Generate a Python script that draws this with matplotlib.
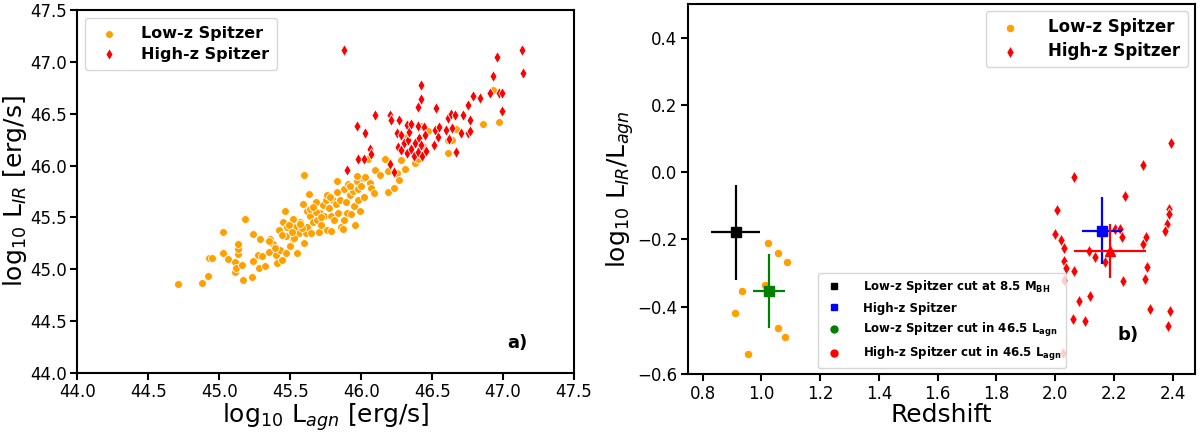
import matplotlib.pyplot as plt
from matplotlib.lines import Line2D
import numpy as np

# panel a) : low-z sample
low_lagn = [44.71, 44.88, 44.92, 44.93, 44.95, 45.03, 45.03, 45.06, 45.11, 45.11,
            45.12, 45.13, 45.13, 45.13, 45.16, 45.17, 45.18, 45.23, 45.24, 45.24,
            45.27, 45.28, 45.29, 45.30, 45.32, 45.35, 45.36, 45.38, 45.40, 45.41,
            45.42, 45.43, 45.44, 45.45, 45.46, 45.47, 45.47, 45.48, 45.50, 45.52,
            45.52, 45.54, 45.55, 45.56, 45.57, 45.59, 45.60, 45.60, 45.61, 45.62,
            45.62, 45.63, 45.64, 45.65, 45.66, 45.67, 45.68, 45.69, 45.70, 45.71,
            45.72, 45.73, 45.74, 45.75, 45.76, 45.76, 45.77, 45.79, 45.79, 45.80,
            45.81, 45.82, 45.83, 45.84, 45.85, 45.86, 45.87, 45.88, 45.88, 45.89,
            45.90, 45.91, 45.92, 45.93, 45.94, 45.95, 45.96, 45.97, 45.98, 45.98,
            45.99, 46.00, 46.01, 46.02, 46.03, 46.05, 46.06, 46.07, 46.09, 46.10,
            46.13, 46.17, 46.19, 46.19, 46.23, 46.25, 46.27, 46.28, 46.31, 46.32,
            46.38, 46.40, 46.42, 46.44, 46.47, 46.61, 46.61, 46.64, 46.67, 46.86,
            46.93, 46.97, 45.44, 45.49, 45.53, 45.58, 45.64, 45.68, 45.72, 45.57,
            45.35, 45.39, 45.51, 45.66, 45.78, 45.83, 45.92, 45.97]
low_lir = [44.86, 44.87, 44.94, 45.11, 45.11, 45.36, 45.16, 45.10, 45.07, 44.97,
           45.01, 45.15, 45.20, 45.24, 45.04, 44.90, 45.49, 44.93, 45.34, 45.08,
           45.14, 45.01, 45.29, 45.13, 45.03, 45.17, 45.29, 45.24, 45.14, 45.06,
           45.38, 45.19, 45.09, 45.46, 45.56, 45.16, 45.32, 45.41, 45.22, 45.29,
           45.49, 45.41, 45.16, 45.35, 45.46, 45.63, 45.25, 45.91, 45.35, 45.56,
           45.41, 45.73, 45.51, 45.35, 45.46, 45.59, 45.65, 45.48, 45.36, 45.54,
           45.43, 45.62, 45.51, 45.67, 45.38, 45.72, 45.59, 45.51, 45.37, 45.67,
           45.48, 45.63, 45.85, 45.54, 45.67, 45.41, 45.39, 45.77, 45.48, 45.65,
           45.54, 45.82, 45.72, 45.53, 45.76, 45.61, 45.43, 45.85, 45.77, 45.67,
           45.56, 45.80, 45.88, 45.70, 45.89, 46.06, 45.83, 45.78, 45.74, 45.96,
           45.91, 46.06, 45.75, 45.95, 45.78, 45.93, 45.86, 46.05, 45.97, 46.28,
           46.03, 46.06, 46.38, 46.18, 46.33, 46.25, 46.12, 46.25, 46.35, 46.40,
           46.73, 46.42, 45.33, 45.43, 45.30, 45.40, 45.58, 45.55, 45.50, 45.44,
           45.27, 45.21, 45.36, 45.60, 45.70, 45.75, 45.80, 45.90]

# panel a) : high-z sample
high_lagn = [45.88, 45.90, 45.97, 45.98, 46.02, 46.03, 46.06, 46.07, 46.10, 46.20,
             46.21, 46.20, 46.23, 46.25, 46.26, 46.27, 46.28, 46.28, 46.30, 46.32,
             46.32, 46.33, 46.34, 46.35, 46.35, 46.37, 46.38, 46.40, 46.40, 46.40,
             46.41, 46.42, 46.42, 46.42, 46.43, 46.44, 46.45, 46.46, 46.51, 46.52,
             46.53, 46.54, 46.55, 46.60, 46.61, 46.62, 46.63, 46.64, 46.66, 46.67,
             46.70, 46.72, 46.75, 46.75, 46.77, 46.77, 46.79, 46.84, 46.91, 46.93,
             46.96, 46.97, 46.99, 46.99, 47.13, 47.14]
high_lir = [47.12, 45.96, 46.38, 46.06, 46.06, 46.31, 46.16, 46.11, 46.49, 46.49,
            46.44, 46.02, 45.94, 46.31, 46.18, 46.44, 46.30, 46.15, 46.22, 46.39,
            46.12, 46.25, 46.32, 46.40, 46.16, 46.09, 46.22, 46.57, 46.38, 46.13,
            46.27, 46.78, 46.20, 46.64, 46.09, 46.37, 46.30, 46.14, 46.20, 46.34,
            46.56, 46.28, 46.37, 46.34, 46.46, 46.26, 46.50, 46.36, 46.49, 46.13,
            46.31, 46.49, 46.58, 46.31, 46.44, 46.33, 46.67, 46.65, 46.70, 46.86,
            47.05, 46.70, 46.70, 46.53, 47.12, 46.89]

# panel b) : ratio vs redshift
low_z = [0.909, 0.935, 0.956, 1.014, 1.023, 1.057, 1.087, 1.056, 1.081]
low_ratio = [-0.418, -0.352, -0.540, -0.334, -0.209, -0.240, -0.268, -0.463, -0.490]
high_z = [2.066, 2.301, 2.395, 2.239, 2.005, 2.388, 2.387, 2.382, 2.374, 2.000,
          2.021, 2.032, 2.032, 2.038, 2.032, 2.064, 2.117, 2.136, 2.169, 2.205,
          2.221, 2.229, 2.232, 2.300, 2.310, 2.312, 2.306, 2.323, 2.081, 2.119,
          2.060, 2.101, 2.392, 2.385, 2.027]
high_ratio = [-0.013, 0.020, 0.087, -0.070, -0.112, -0.108, -0.125, -0.154, -0.176, -0.184,
              -0.202, -0.226, -0.264, -0.284, -0.320, -0.294, -0.233, -0.253, -0.268, -0.169,
              -0.169, -0.192, -0.322, -0.213, -0.194, -0.281, -0.317, -0.408, -0.382, -0.369,
              -0.435, -0.441, -0.412, -0.457, -0.537]

# mean points with errors: low-z cut MBH, high-z, low-z cut Lagn, high-z cut Lagn
mean_z = [0.913, 2.160, 1.025, 2.187]
mean_ratio = [-0.179, -0.174, -0.352, -0.233]
mean_zerr = [0.084, 0.069, 0.054, 0.123]
mean_rerr = [0.140, 0.099, 0.110, 0.080]
mean_colors = ['black', 'blue', 'green', 'red']
mean_markers = ['s', 's', 's', '^']
mean_labels = [r'Low-z Spitzer cut at 8.5 M$_{\mathbf{BH}}$', 'High-z Spitzer',
               r'Low-z Spitzer cut in 46.5 L$_{\mathbf{agn}}$',
               r'High-z Spitzer cut in 46.5 L$_{\mathbf{agn}}$']
legend_markers = ['s', 's', 'o', 'o']

orange = '#FFA000'

fig = plt.figure(figsize=(12, 4.32), dpi=100)
ax1 = fig.add_axes([0.0644, 0.1366, 0.414, 0.840])
ax2 = fig.add_axes([0.573, 0.134, 0.4225, 0.857])

for ax in (ax1, ax2):
    for sp in ax.spines.values():
        sp.set_linewidth(1.5)
    ax.tick_params(labelsize=12, length=5, width=1.5, pad=2.5)

# left panel
ax1.scatter(low_lagn, low_lir, s=32, c=orange, edgecolors='white', linewidths=0.6,
            label='Low-z Spitzer', zorder=2)
ax1.scatter(high_lagn, high_lir, s=36, c='red', marker='d', edgecolors='white',
            linewidths=0.6, label='High-z Spitzer', zorder=3)
ax1.set_xlim(44.0, 47.5)
ax1.set_ylim(44.0, 47.5)
ax1.set_xlabel(r'log$_{10}$ L$_{agn}$ [erg/s]', fontsize=18, labelpad=0)
ax1.set_ylabel(r'log$_{10}$ L$_{IR}$ [erg/s]', fontsize=18, labelpad=1)
ax1.legend(loc='upper left', prop={'weight': 'bold', 'size': 11.5}, handletextpad=1.0,
           borderpad=0.5, labelspacing=0.35, borderaxespad=0.5)
ax1.text(47.1, 44.29, 'a)', fontsize=13, fontweight='bold', ha='center', va='center')

# right panel
ax2.scatter(low_z, low_ratio, s=36, c=orange, edgecolors='white', linewidths=0.6,
            label='Low-z Spitzer', zorder=2)
ax2.scatter(high_z, high_ratio, s=40, c='red', marker='d', edgecolors='white',
            linewidths=0.6, label='High-z Spitzer', zorder=2)
for i in range(len(mean_z)):
    ax2.errorbar(mean_z[i], mean_ratio[i], xerr=mean_zerr[i], yerr=mean_rerr[i],
                 fmt=mean_markers[i], color=mean_colors[i], ms=6.5, elinewidth=1.6, zorder=4)
leg = ax2.legend(loc='upper right', prop={'weight': 'bold', 'size': 12},
                 handletextpad=1.3, borderpad=0.45, labelspacing=0.35, borderaxespad=0.4)
ax2.add_artist(leg)
handles = [Line2D([], [], ls='', marker=legend_markers[i], color=mean_colors[i], ms=5)
           for i in range(len(mean_labels))]
ax2.legend(handles, mean_labels, loc='lower left', bbox_to_anchor=(0.245, 0.0),
           prop={'weight': 'bold', 'size': 8.5}, handletextpad=1.4, borderpad=0.4,
           labelspacing=0.55)
ax2.set_xlim(0.749, 2.475)
ax2.set_ylim(-0.6, 0.5)
ax2.set_yticks([-0.6, -0.4, -0.2, 0.0, 0.2, 0.4])
ax2.set_xlabel('Redshift', fontsize=18, labelpad=0)
ax2.set_ylabel(r'log$_{10}$ L$_{IR}$/L$_{agn}$', fontsize=18, labelpad=1)
ax2.text(2.248, -0.483, 'b)', fontsize=13, fontweight='bold', ha='center', va='center')

fig.savefig('out.png', dpi=100)
